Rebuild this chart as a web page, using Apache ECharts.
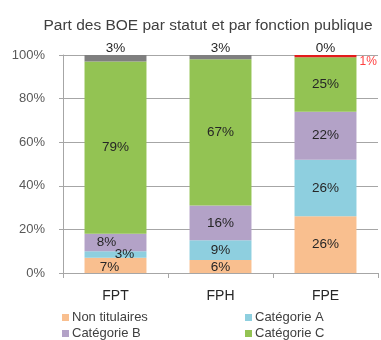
<!DOCTYPE html>
<html>
<head>
<meta charset="utf-8">
<script src="https://cdn.jsdelivr.net/npm/echarts@6/dist/echarts.min.js"></script>
<style>
  html, body { margin: 0; padding: 0; background: #fff; }
  #chart { width: 381px; height: 340px; }
</style>
</head>
<body>
<div id="chart"></div>
<script>
// Share of BOE beneficiaries by status, per branch of the civil service (%)
const categories = ['FPT', 'FPH', 'FPE'];
const nonTitulaires = [7, 6, 26];
const categorieA = [3, 9, 26];
const categorieB = [8, 16, 22];
const categorieC = [79, 67, 25];
const autresRouge = [0, 0, 1];
const autresGris = [3, 3, 0];
const yTicks = [0, 20, 40, 60, 80, 100];

const FONT = 'Liberation Sans, Arial, sans-serif';
const labelFont = { fontFamily: FONT, fontSize: 13.5, color: '#262626' };

function seriesFor(name, data, color, offsets) {
  return {
    name: name,
    type: 'bar',
    stack: 'total',
    barWidth: '59%',
    itemStyle: { color: color },
    data: data.map((v, i) => ({
      value: v,
      label: { offset: offsets[i] }
    })),
    label: {
      show: true,
      position: 'inside',
      ...labelFont,
      formatter: p => p.value + '%'
    }
  };
}

// one legend block per entry, laid out as a 2x2 grid
function legendItem(name, left, top) {
  return {
    left: left, top: top,
    itemWidth: 7, itemHeight: 7,
    icon: 'rect',
    textStyle: { fontFamily: FONT, fontSize: 13, color: '#404040', padding: [0, 0, 0, -2] },
    data: [name]
  };
}

const chart = echarts.init(document.getElementById('chart'), null, { renderer: 'canvas' });

chart.setOption({
  animation: false,
  title: {
    text: 'Part des BOE par statut et par fonction publique',
    left: 203,
    textAlign: 'center',
    top: 13,
    textStyle: { fontFamily: FONT, fontSize: 15.5, fontWeight: 'normal', color: '#404040' }
  },
  grid: { left: 63, right: 3, top: 55, bottom: 67 },
  legend: [
    legendItem('Non titulaires', 57, 306),
    legendItem('Catégorie A', 240, 306),
    legendItem('Catégorie B', 57, 322),
    legendItem('Catégorie C', 240, 322)
  ],
  xAxis: {
    type: 'category',
    data: categories,
    axisLine: { lineStyle: { color: '#A6A6A6' } },
    axisTick: { show: true, length: 5, lineStyle: { color: '#A6A6A6' } },
    axisLabel: { fontFamily: FONT, fontSize: 14, color: '#262626', margin: 16 }
  },
  yAxis: {
    type: 'value',
    min: yTicks[0],
    max: yTicks[yTicks.length - 1],
    interval: 20,
    axisLine: { show: true, lineStyle: { color: '#A6A6A6' } },
    axisTick: { show: true, length: 4, lineStyle: { color: '#A6A6A6' } },
    splitLine: { lineStyle: { color: '#A6A6A6' } },
    axisLabel: {
      fontFamily: FONT, fontSize: 13, color: '#595959', margin: 18,
      formatter: v => v + '%'
    }
  },
  series: [
    seriesFor('Non titulaires', nonTitulaires, '#F9BF8F', [[-6, 2], [0, 1], [0, 0]]),
    seriesFor('Catégorie A', categorieA, '#8ECFDF', [[9, 0], [0, 0], [0, 0]]),
    seriesFor('Catégorie B', categorieB, '#B3A2C7', [[-9, 0], [0, 0], [0, 0]]),
    seriesFor('Catégorie C', categorieC, '#93C353', [[0, 0], [0, 0], [0, 0]]),
    {
      name: 'Autres (1)',
      type: 'bar',
      stack: 'total',
      barWidth: '59%',
      itemStyle: { color: '#E31B1B' },
      data: autresRouge,
      label: {
        show: true,
        position: 'right',
        distance: 3,
        offset: [0, 6],
        fontFamily: FONT,
        fontSize: 12,
        color: '#FF4040',
        formatter: p => (p.value > 0 ? p.value + '%' : '')
      }
    },
    {
      name: 'Autres (2)',
      type: 'bar',
      stack: 'total',
      barWidth: '59%',
      itemStyle: { color: '#7F7F7F' },
      data: autresGris,
      label: {
        show: true,
        position: 'top',
        distance: 0,
        ...labelFont,
        formatter: p => p.value + '%'
      }
    }
  ]
});
</script>
</body>
</html>
